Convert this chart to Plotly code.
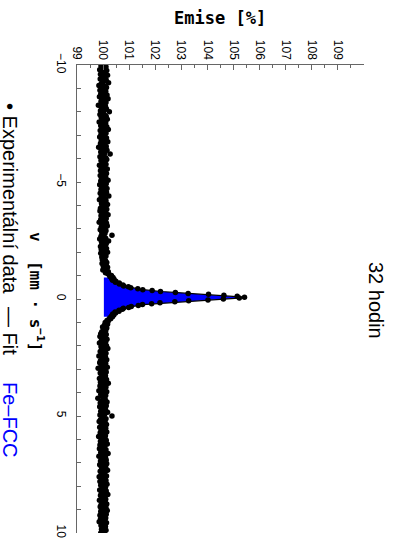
import numpy as np
import plotly.graph_objects as go

emise_a = [
    100.05, 99.92, 100.11, 99.98, 100.02, 99.87, 100.14, 100.03, 99.95, 100.08, 99.90, 100.17, 100.01, 99.94, 100.06,
    99.89, 100.12, 100.04, 99.97, 100.21, 99.93, 100.00, 99.84, 100.09, 100.13, 99.96, 100.02, 99.88, 100.10, 99.99,
    100.07, 99.91, 100.15, 100.03, 99.86, 100.01, 100.19, 99.95, 100.06, 99.92, 100.11, 99.98, 100.04, 99.82, 100.09,
    100.00, 99.94, 100.13, 100.05, 99.90, 100.24, 99.97, 100.02, 99.88, 100.08, 100.12, 99.93, 100.01, 100.16, 99.96,
    100.03, 99.85, 100.10, 99.99, 100.07, 99.91, 100.14, 100.02, 99.95, 100.20, 99.89, 100.05, 99.98, 100.11, 99.92,
    100.06, 100.01, 99.87, 100.13, 99.96, 100.09, 99.93, 100.18, 100.00, 99.90, 100.04, 99.97, 100.12, 99.83, 100.08,
    99.95, 100.15, 100.02, 99.91, 100.06, 100.27, 99.94, 100.03, 99.88, 100.10, 99.99, 100.14, 99.92, 100.05, 100.01,
    99.97, 100.11, 99.86, 100.07, 100.00, 99.93, 100.16, 100.04, 99.90, 100.09, 99.96, 100.13, 100.02, 99.89, 100.06,
    100.10, 99.94, 100.03, 100.19, 99.91, 100.05, 99.98, 100.12, 99.87, 100.08, 100.01, 99.95, 100.15, 99.92, 100.04,
    100.00, 100.13, 99.89, 100.06, 99.97, 100.22, 99.93, 100.02, 100.09, 99.86, 100.11, 99.99, 100.05, 99.94, 100.17,
    99.96, 100.08, 100.01, 99.90, 100.14, 100.03, 99.88, 100.10, 99.95, 100.06, 100.19, 99.92, 100.02, 99.98, 100.12,
    99.91, 100.05, 100.09, 99.85, 100.13, 100.00, 99.97, 100.16, 99.93, 100.04, 100.08, 99.89, 100.11, 100.02, 99.95,
    100.07, 99.99, 100.34, 99.92, 100.03, 100.10, 99.87, 100.06, 100.21, 99.94, 100.01, 100.12, 99.96, 100.08, 99.90,
    100.04, 100.13, 99.93, 100.02, 99.98, 100.17, 99.91, 100.07, 100.00, 100.11, 99.95, 100.05, 100.05, 99.97, 100.09,
    100.03, 100.14, 99.96, 100.08, 100.12, 100.01, 100.17, 100.06, 100.10, 99.99, 100.15, 100.20, 100.09, 100.18, 100.24,
]
emise_peak = [
    100.32, 100.26, 100.38, 100.33, 100.42, 100.36, 100.49, 100.47, 100.62, 100.62, 100.76, 100.79,
    100.97, 101.06, 101.33, 101.52, 101.88, 102.20, 102.77, 103.26, 104.04, 104.63, 105.14,
    105.42,
    105.22, 104.61, 104.02, 103.28, 102.75, 102.18, 101.86, 101.51, 101.35, 101.08, 100.98, 100.78,
    100.74, 100.61, 100.61, 100.46, 100.48, 100.37, 100.41, 100.33, 100.36, 100.26, 100.29,
]
emise_b = [
    100.22, 100.15, 100.19, 100.08, 100.13, 100.17, 100.05, 100.11, 99.98, 100.14, 100.07, 100.02, 100.10, 99.95, 100.06,
    99.91, 100.12, 100.03, 99.88, 100.08, 99.97, 100.15, 100.01, 99.93, 100.10, 99.86, 100.05, 99.99, 100.13, 99.92,
    100.04, 100.18, 99.95, 100.07, 99.89, 100.02, 100.11, 99.94, 100.06, 99.84, 100.09, 100.00, 99.96, 100.14, 99.90,
    100.03, 99.87, 100.10, 99.98, 100.05, 99.92, 100.16, 99.81, 100.07, 100.01, 99.94, 100.12, 99.89, 100.04, 99.97,
    100.09, 99.93, 100.02, 99.86, 100.13, 99.99, 100.06, 99.90, 100.20, 99.95, 100.03, 99.88, 100.11, 100.00, 99.92,
    100.07, 99.84, 100.14, 99.97, 100.04, 99.91, 100.10, 99.96, 100.02, 99.80, 100.08, 100.01, 99.93, 100.15, 99.89,
    100.05, 99.98, 100.12, 99.87, 100.03, 99.94, 100.09, 100.00, 99.91, 100.17, 99.95, 100.06, 99.88, 100.34, 100.02,
    99.96, 100.11, 99.90, 100.04, 99.85, 100.08, 99.99, 100.13, 99.93, 100.02, 99.87, 100.10, 99.97, 100.05, 99.92,
    100.14, 99.89, 100.03, 99.95, 100.09, 99.83, 100.06, 100.00, 99.94, 100.12, 99.90, 100.04, 99.98, 100.16, 99.88,
    100.07, 99.93, 100.01, 99.86, 100.11, 99.97, 100.05, 99.91, 100.19, 99.95, 100.02, 99.84, 100.09, 100.03, 99.96,
    100.12, 99.90, 100.06, 99.98, 100.14, 99.87, 100.04, 99.93, 100.10, 100.01, 99.95, 100.17, 99.89, 100.07, 99.99,
    100.03, 99.92, 100.13, 99.85, 100.08, 100.00, 99.94, 100.11, 99.88, 100.05, 99.97, 100.15, 99.91, 100.02, 100.09,
    99.96, 100.06, 99.87, 100.12, 99.99, 100.04, 99.93, 100.18, 99.90, 100.07, 100.01, 99.95, 100.10, 99.86, 100.03,
    100.08, 99.97, 100.14, 99.92, 100.05, 99.89, 100.11, 100.00, 99.94, 100.16, 99.91, 100.06, 99.98, 100.12, 99.88,
    100.04, 99.95, 100.10, 99.90, 100.07, 100.01, 99.85, 100.13, 99.96, 100.03, 99.92, 100.09, 99.99, 100.06, 99.94,
    100.11, 99.97, 100.04, 99.91,
]
emise = emise_a + emise_peak + emise_b
# channel velocities (mm/s), equally spaced from -10 to 10
velocity = np.round(np.linspace(-10, 10, len(emise)), 4)

# Fe-FCC singlet fit (channels around the peak)
fit_start = len(emise_a) + 2
fit_values = [
    100.32, 100.35, 100.38, 100.41, 100.46, 100.51, 100.57, 100.64, 100.72, 100.82,
    100.95, 101.10, 101.30, 101.54, 101.84, 102.23, 102.72, 103.30, 103.98, 104.66, 105.19,
    105.40,
    105.19, 104.66, 103.98, 103.30, 102.72, 102.23, 101.84, 101.54, 101.30, 101.10, 100.95,
    100.82, 100.72, 100.64, 100.57, 100.51, 100.46, 100.41, 100.38, 100.35, 100.32,
]
fit_velocity = list(velocity[fit_start:fit_start + len(fit_values)])
fit_base = 100.03

x_ticks = list(range(99, 110))
y_ticks = [-10, -5, 0, 5, 10]
y_ticktext = ["\u221210", "\u22125", "0", "5", "10"]

BLUE = "#0000FF"

fig = go.Figure()
# blue component fill
fig.add_trace(go.Scatter(
    x=fit_values + [fit_base, fit_base],
    y=fit_velocity + [fit_velocity[-1], fit_velocity[0]],
    mode="lines", fill="toself", fillcolor=BLUE,
    line=dict(width=0, color=BLUE), hoverinfo="skip",
))
# fit line
fig.add_trace(go.Scatter(
    x=fit_values, y=fit_velocity, mode="lines",
    line=dict(color="black", width=1.2),
))
# experimental points
fig.add_trace(go.Scatter(
    x=emise, y=velocity, mode="markers",
    marker=dict(color="black", size=5.5, line=dict(width=0)),
))

L, R, T, B = 77, 34, 65, 21
W, H = 398, 554
pw, ph = W - L - R, H - T - B

def px(xp):
    return (xp - L) / pw

def py(yp):
    return (H - B - yp) / ph

fig.update_layout(
    width=W, height=H,
    margin=dict(l=L, r=R, t=T, b=B, pad=0),
    plot_bgcolor="white", paper_bgcolor="white",
    showlegend=False,
    font=dict(family="Liberation Sans", color="black"),
    xaxis=dict(
        range=[99, 110], side="top", showline=True, linecolor="#666666", linewidth=1,
        ticks="inside", ticklen=5, tickcolor="#666666", tickvals=x_ticks,
        tickangle=90, tickfont=dict(size=12, family="Liberation Sans", color="black"),
        minor=dict(dtick=0.5, tick0=99, ticks="inside", ticklen=3, tickcolor="#666666"),
        showgrid=False, zeroline=False,
    ),
    yaxis=dict(
        range=[10, -10], showline=True, linecolor="#666666", linewidth=1,
        ticks="inside", ticklen=4, tickcolor="#666666", tickvals=y_ticks, ticktext=y_ticktext,
        tickangle=90, tickfont=dict(size=12, family="Liberation Sans", color="black"),
        minor=dict(dtick=1, tick0=-10, ticks="inside", ticklen=4, tickcolor="#666666"),
        showgrid=False, zeroline=False, ticklabelstandoff=5,
    ),
)

ann = []
ann.append(dict(text="<b>Emise [%]</b>", x=px(220), y=py(18), xref="paper", yref="paper",
                showarrow=False, xanchor="center", yanchor="middle",
                font=dict(family="DejaVu Sans Mono", size=17, color="black")))
ann.append(dict(text="<b>v  [mm \u00b7 s<sup>\u22121</sup>]</b>", x=px(37), y=py(291), xref="paper", yref="paper",
                showarrow=False, xanchor="center", yanchor="middle", textangle=90,
                font=dict(family="DejaVu Sans Mono", size=16, color="black")))
ann.append(dict(text="32 hodin", x=px(376), y=py(300), xref="paper", yref="paper",
                showarrow=False, xanchor="center", yanchor="middle", textangle=90,
                font=dict(family="Liberation Sans", size=20, color="black")))
ann.append(dict(text="\u2022 Experimentální data", x=px(10), y=py(198), xref="paper", yref="paper",
                showarrow=False, xanchor="center", yanchor="middle", textangle=90,
                font=dict(family="Liberation Sans", size=20, color="black")))
ann.append(dict(text="\u2014 Fit", x=px(10), y=py(331), xref="paper", yref="paper",
                showarrow=False, xanchor="center", yanchor="middle", textangle=90,
                font=dict(family="Liberation Sans", size=20, color="black")))
ann.append(dict(text="Fe\u2013FCC", x=px(10), y=py(420), xref="paper", yref="paper",
                showarrow=False, xanchor="center", yanchor="middle", textangle=90,
                font=dict(family="Liberation Sans", size=20, color=BLUE)))
fig.update_layout(annotations=ann)

fig.write_html(
    "out.html",
    config={"displayModeBar": False},
    post_script="document.body.style.margin='0';document.body.style.overflow='hidden';",
)
